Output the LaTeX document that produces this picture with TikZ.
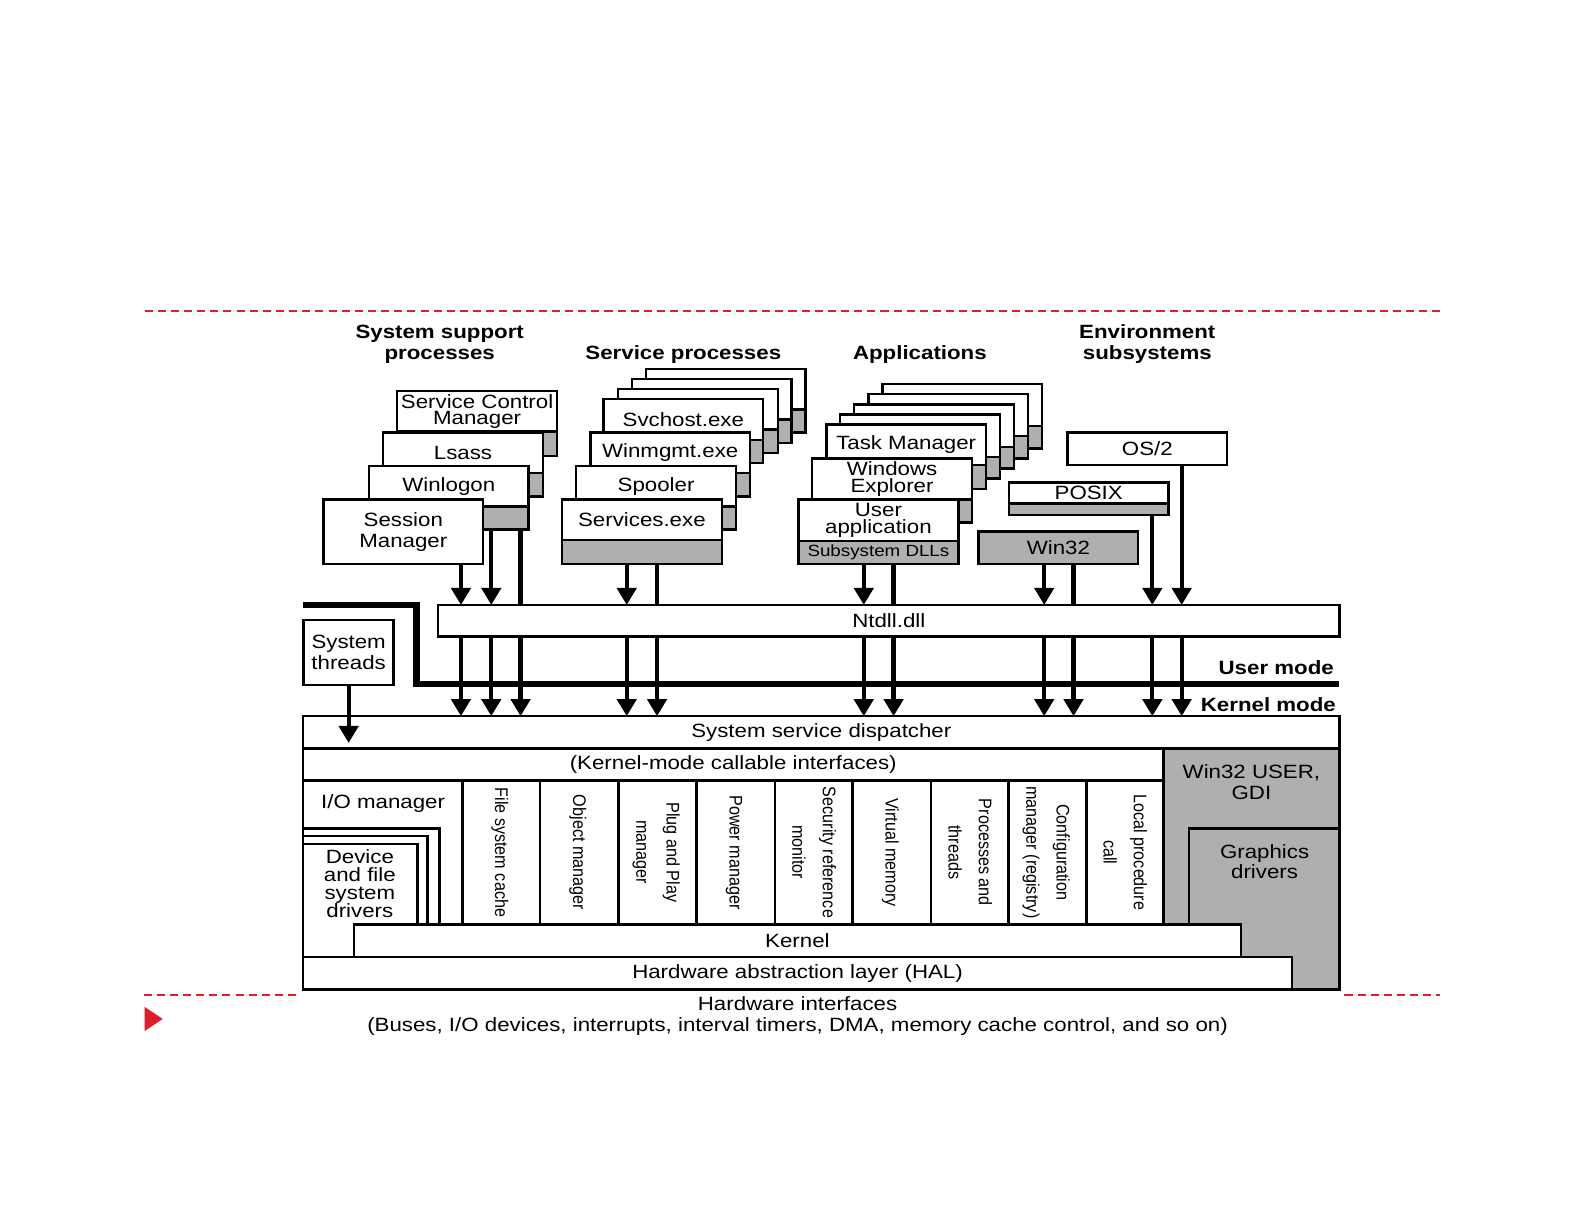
\documentclass[tikz,border=0pt]{standalone}
\usepackage{fontspec}
\setmainfont{Liberation Sans}[FakeStretch=1.16]
\newfontfamily\rotfont{Liberation Sans}
\usepackage{graphicx}
\usetikzlibrary{arrows.meta}
\definecolor{boxgray}{RGB}{175,175,175}
\definecolor{slidered}{RGB}{222,30,40}
\tikzset{
 wbox/.style={draw, line width=2.4pt, fill=white, inner sep=0pt, outer sep=0pt, anchor=north west, minimum width=158pt, align=center},
 gpart/.style={wbox, fill=boxgray},
 hdr/.style={font=\fontsize{19}{21}\selectfont\bfseries, align=center},
 txt/.style={align=center},
 arr/.style={line width=4.2pt, -{Triangle[width=19pt,length=17pt]}},
 ln/.style={line width=4.2pt},
 reddash/.style={draw=slidered, line width=2pt, dash pattern=on 8pt off 5pt},
}
\newcommand{\mkstack}[7]{%
 \node[wbox, minimum height=#4, #6] (#1) at (#2,#3) {#7};
 \node[gpart, minimum height=#5] (#1g) at (#1.south west) {};
}
\newcommand{\kcol}[4]{%
 \node[wbox, minimum width=#3, minimum height=142.5] (#1) at (#2,772) {\rotatebox{-90}{\scalebox{1}[1.13]{\rotfont\fontsize{16}{26.5}\selectfont\begin{tabular}{@{}c@{}}#4\end{tabular}}}};
}
\begin{document}
\begin{tikzpicture}[x=1pt,y=-1pt,font=\fontsize{19}{21}\selectfont]
\useasboundingbox (0,0) rectangle (1568,1212);
% slide guides
\draw[reddash] (143,308) -- (1425,308);
\draw[reddash] (142,984.5) -- (294,984.5);
\draw[reddash] (1330,984.5) -- (1425,984.5);
\fill[slidered] (143,996) -- (161,1008) -- (143,1020) -- cycle;
% headers
\node[hdr] (hSys) at (435,340.5) {System support\\processes};
\node[hdr] (hSvc) at (676,351) {Service processes};
\node[hdr] (hApp) at (910,351) {Applications};
\node[hdr] (hEnv) at (1135,340.5) {Environment\\subsystems};
% system support processes
\mkstack{scm}{393}{387}{40}{24}{font=\fontsize{19}{16}\selectfont}{Service Control\\Manager}
\mkstack{lsass}{379}{428}{40}{23}{}{Lsass}
\mkstack{winlogon}{365}{461}{40}{23}{}{Winlogon}
\node[wbox, minimum height=64, font=\fontsize{19}{20.5}\selectfont] (sessmgr) at (320,494) {Session\\Manager};
% service processes
\mkstack{svA}{639}{365}{40}{23}{}{}
\mkstack{svB}{625}{375}{40}{23}{}{}
\mkstack{svC}{611.5}{385}{40}{23}{}{}
\mkstack{svchost}{597}{395}{40}{23}{}{Svchost.exe}
\mkstack{winmgmt}{584}{428}{40}{23}{}{Winmgmt.exe}
\mkstack{spooler}{570}{461}{40}{23}{}{Spooler}
\mkstack{services}{556}{494}{40}{24}{}{Services.exe}
% applications
\mkstack{apA}{873}{380}{41.5}{22}{}{}
\mkstack{apB}{859}{390}{41.5}{22}{}{}
\mkstack{apC}{845}{400}{42}{21.5}{}{}
\mkstack{apD}{831}{410}{42}{21.5}{}{}
\mkstack{taskmgr}{817.5}{420}{40}{23.5}{}{Task Manager}
\mkstack{explorer}{803.5}{453.5}{40.5}{23}{font=\fontsize{19}{16.5}\selectfont}{Windows\\Explorer}
\node[wbox, minimum height=41, font=\fontsize{19}{17}\selectfont] (userapp) at (790,494) {User\\application};
\node[gpart, minimum height=23, font=\fontsize{16}{18}\selectfont] (dlls) at (userapp.south west) {Subsystem DLLs};
% environment subsystems
\node[wbox, minimum height=32] (os2) at (1056,428) {OS/2};
\node[wbox, minimum height=20.5] (posix) at (998,477.5) {POSIX};
\node[gpart, minimum height=11.5] (posixg) at (posix.south west) {};
\node[gpart, minimum height=32] (win32) at (968,526) {Win32};
% user / kernel boundary
\draw[line width=6pt] (300,598.5) -- (412,598.5) -- (412,677) -- (1325,677);
\node[wbox, minimum width=891.5, minimum height=31] (ntdll) at (433.5,598.5) {Ntdll.dll};
\node[wbox, minimum width=89, minimum height=64.5] (thr) at (300.4,613.4) {System\\threads};
\node[hdr, anchor=east] (umode) at (1323,660) {User mode};
\node[hdr, anchor=east] (kmode) at (1325,697) {Kernel mode};
% kernel mode
\node[wbox, minimum width=1025, minimum height=32] (ssd) at (300,708.5) {System service dispatcher};
\node[wbox, minimum width=850.8, minimum height=31.5] (kmci) at (300,740.5) {(Kernel-mode callable interfaces)};
\node[gpart, minimum width=174.2, minimum height=238.2] (w32k) at (1150.8,740.5) {};
\node[gpart, minimum width=148.5, minimum height=159.2] (gdrv) at (1176.5,819.5) {};
\node[wbox, minimum width=157.4, minimum height=174.5] (iomgr) at (300,772) {};
\node[wbox, minimum width=134.6, minimum height=127] (drC) at (300,819.5) {};
\node[wbox, minimum width=122.8, minimum height=119.5] (drB) at (300,827) {};
\node[wbox, minimum width=112.9, minimum height=111.5] (drA) at (300,835) {};
\kcol{fsc}{457.4}{76.8}{File system cache}
\kcol{objm}{534.2}{77.5}{Object manager}
\kcol{pnp}{611.7}{77.5}{Plug and Play\\manager}
\kcol{powm}{689.2}{77.3}{Power manager}
\kcol{srm}{766.5}{76.9}{Security reference\\monitor}
\kcol{vmem}{843.4}{77.6}{Virtual memory}
\kcol{procs}{921}{76.8}{Processes and\\threads}
\kcol{cfgm}{997.8}{76.9}{Configuration\\manager (registry)}
\kcol{lpc}{1074.7}{76.1}{Local procedure\\call}
\node[wbox, minimum width=877.7, minimum height=32] (kern) at (350,914.5) {Kernel};
\node[wbox, minimum width=978, minimum height=32.2] (hal) at (300,946.5) {Hardware abstraction layer (HAL)};
% texts inside regions
\node[txt] (ioT) at (379,795) {I/O manager};
\node[txt, font=\fontsize{19}{18}\selectfont] (devT) at (356,874) {Device\\and file\\system\\drivers};
\node[txt] (w32T) at (1238,773.5) {Win32 USER,\\GDI};
\node[txt, font=\fontsize{19}{20}\selectfont] (gdT) at (1251,852) {Graphics\\drivers};
\node[txt] (hwT) at (789,1005.5) {Hardware interfaces\\(Buses, I/O devices, interrupts, interval timers, DMA, memory cache control, and so on)};
% arrow columns
\coordinate (k1) at (456,0);
\coordinate (k2) at (486,0);
\coordinate (k3) at (515,0);
\coordinate (k4) at (620,0);
\coordinate (k5) at (650,0);
\coordinate (k6) at (854.5,0);
\coordinate (k7) at (884,0);
\coordinate (k8) at (1033,0);
\coordinate (k9) at (1062,0);
\coordinate (k10) at (1140,0);
\coordinate (k11) at (1169,0);
\coordinate (thrEnd) at (345,735);
\draw[arr] (sessmgr.south -| k1) -- (ntdll.north -| k1);
\draw[arr] (winlogong.south -| k2) -- (ntdll.north -| k2);
\draw[ln] (winlogong.south -| k3) -- (ntdll.north -| k3);
\draw[arr] (servicesg.south -| k4) -- (ntdll.north -| k4);
\draw[ln] (servicesg.south -| k5) -- (ntdll.north -| k5);
\draw[arr] (dlls.south -| k6) -- (ntdll.north -| k6);
\draw[ln] (dlls.south -| k7) -- (ntdll.north -| k7);
\draw[arr] (win32.south -| k8) -- (ntdll.north -| k8);
\draw[ln] (win32.south -| k9) -- (ntdll.north -| k9);
\draw[arr] (posixg.south -| k10) -- (ntdll.north -| k10);
\draw[arr] (os2.south -| k11) -- (ntdll.north -| k11);
\foreach \k in {k1,k2,k3,k4,k5,k6,k7,k8,k9,k10,k11} {
  \draw[arr] (ntdll.south -| \k) -- (ssd.north -| \k);
}
\draw[arr] (thr.south) -- (thr.south |- thrEnd);
\end{tikzpicture}
\end{document}
